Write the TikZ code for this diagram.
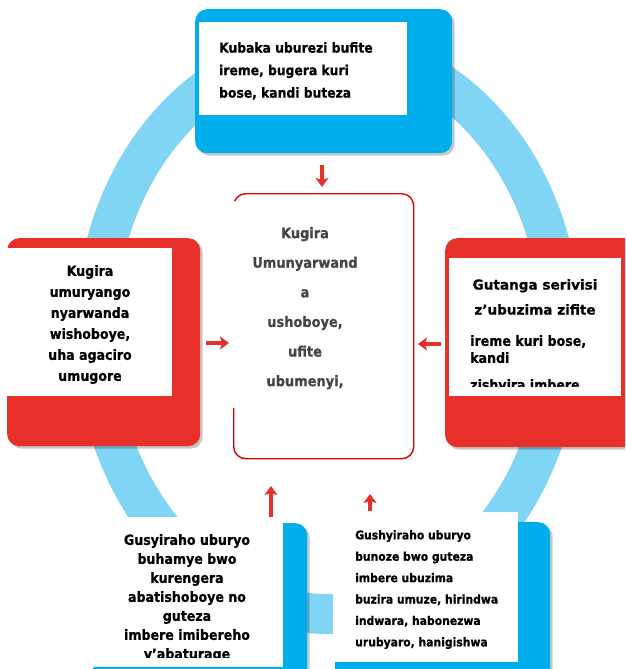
\documentclass[tikz,border=0pt]{standalone}
\usepackage{fontspec}
\setmainfont{DejaVu Sans Condensed}[BoldFont={DejaVu Sans Condensed Bold},BoldFeatures={FakeBold=0.7}]
\newfontfamily\widefont{DejaVu Sans}[BoldFont={DejaVu Sans Bold},BoldFeatures={FakeBold=0.7}]
\usetikzlibrary{arrows.meta,shadows}
\definecolor{ringblue}{RGB}{128,212,244}
\definecolor{boxblue}{RGB}{0,174,236}
\definecolor{boxred}{RGB}{232,48,42}
\definecolor{arrred}{RGB}{230,48,44}
\definecolor{midgray}{RGB}{68,68,68}
\begin{document}
\begin{tikzpicture}[x=1pt,y=-1pt,
  shad/.style={drop shadow={shadow xshift=2.5pt,shadow yshift=-2.5pt,fill=black,opacity=0.22}},
  bluebox/.style={rectangle,rounded corners=12pt,fill=boxblue,draw=none,inner sep=0pt,shad,anchor=north west},
  redbox/.style={rectangle,rounded corners=12pt,fill=boxred,draw=none,inner sep=0pt,shad,anchor=north west},
  whitebox/.style={rectangle,fill=white,draw=none,inner sep=0pt,anchor=north west},
  centerbox/.style={rectangle,rounded corners=12pt,draw=red!90!black,line width=1.4pt,fill=white,inner sep=0pt,anchor=north west},
  txt/.style={inner sep=0pt,text=black},
  redarrow/.style={draw=arrred,line width=4.5pt,-{Stealth[width=13pt,length=9pt,inset=2pt]}},
]
\useasboundingbox (0,0) rectangle (625,669);
\clip (0,0) rectangle (625,669);
% ring
\draw[ringblue,line width=40pt] (328,331) ellipse [x radius=233, y radius=283];
% top box
\node[bluebox,minimum width=257pt,minimum height=144pt] (top) at (195,9) {};
\node[whitebox,minimum width=208pt,minimum height=93pt] (topw) at (199,22) {};
\node[txt,anchor=north west,align=left,font=\bfseries\fontsize{13.7}{22.5}\selectfont] (ttop) at (219,42)
  {Kubaka uburezi bufite\\ireme, bugera kuri\\bose, kandi buteza};
% left box
\node[redbox,minimum width=193pt,minimum height=208pt] (left) at (7,238) {};
\node[whitebox,minimum width=167pt,minimum height=148pt] (leftw) at (5,248) {};
\node[txt,anchor=north,align=center,font=\bfseries\fontsize{14}{21}\selectfont] (tleft) at (90,265)
  {Kugira\\umuryango\\nyarwanda\\wishoboye,\\uha agaciro\\umugore};
% right box
\node[redbox,minimum width=200pt,minimum height=209pt] (right) at (445,238) {};
\node[whitebox,minimum width=172pt,minimum height=138pt] (rightw) at (449,258) {};
\node[txt,anchor=north,align=center,font=\widefont\bfseries\fontsize{13.6}{25}\selectfont] (tright1) at (535,279)
  {Gutanga serivisi\\z’ubuzima zifite};
\node[txt,anchor=north west,align=left,font=\bfseries\fontsize{14}{17}\selectfont] (tright2) at (470,335)
  {ireme kuri bose,\\kandi};
\begin{scope}
  \clip (449,258) rectangle (621,386);
  \node[txt,anchor=north west,font=\bfseries\fontsize{14}{17}\selectfont] (tright3) at (470,379) {zishyira imbere};
\end{scope}
% center box
\node[centerbox,minimum width=180pt,minimum height=265pt] (mid) at (233,193) {};
\draw[white,line width=3pt] (233,201) -- (233,408);
\node[txt,anchor=north,align=center,text=midgray,font=\bfseries\fontsize{14.4}{29.6}\selectfont] (tmid) at (305,227)
  {Kugira\\Umunyarwand\\a\\ushoboye,\\ufite\\ubumenyi,};
% bottom left box
\node[bluebox,minimum width=214pt,minimum height=180pt] (bl) at (93,523) {};
\node[whitebox,minimum width=190pt,minimum height=150pt] (blw) at (93,517) {};
\begin{scope}
  \clip (93,517) rectangle (283,657);
  \node[txt,anchor=north,align=center,font=\bfseries\fontsize{14}{19}\selectfont] (tbl) at (187,534)
    {Gusyiraho uburyo\\buhamye bwo\\kurengera\\abatishoboye no\\guteza\\imbere imibereho\\y’abaturage};
\end{scope}
% bottom right box
\node[bluebox,minimum width=215pt,minimum height=180pt] (br) at (335,522) {};
\node[whitebox,minimum width=185pt,minimum height=150pt] (brw) at (333,512) {};
\node[txt,anchor=north west,align=left,font=\bfseries\fontsize{12}{21.4}\selectfont] (tbr) at (355,530)
  {Gushyiraho uburyo\\bunoze bwo guteza\\imbere ubuzima\\buzira umuze, hirindwa\\indwara, habonezwa\\urubyaro, hanigishwa};
% arrows
\coordinate (a1s) at (322,165); \coordinate (a1e) at (322,187);
\coordinate (a2s) at (206,343); \coordinate (a2e) at (229,343);
\coordinate (a3s) at (441,344); \coordinate (a3e) at (418,344);
\coordinate (a4s) at (271,517); \coordinate (a4e) at (271,486);
\coordinate (a5s) at (370,511); \coordinate (a5e) at (370,494);
\draw[redarrow] (a1s) -- (a1e);
\draw[redarrow] (a2s) -- (a2e);
\draw[redarrow] (a3s) -- (a3e);
\draw[redarrow] (a4s) -- (a4e);
\draw[redarrow] (a5s) -- (a5e);
\end{tikzpicture}
\end{document}
